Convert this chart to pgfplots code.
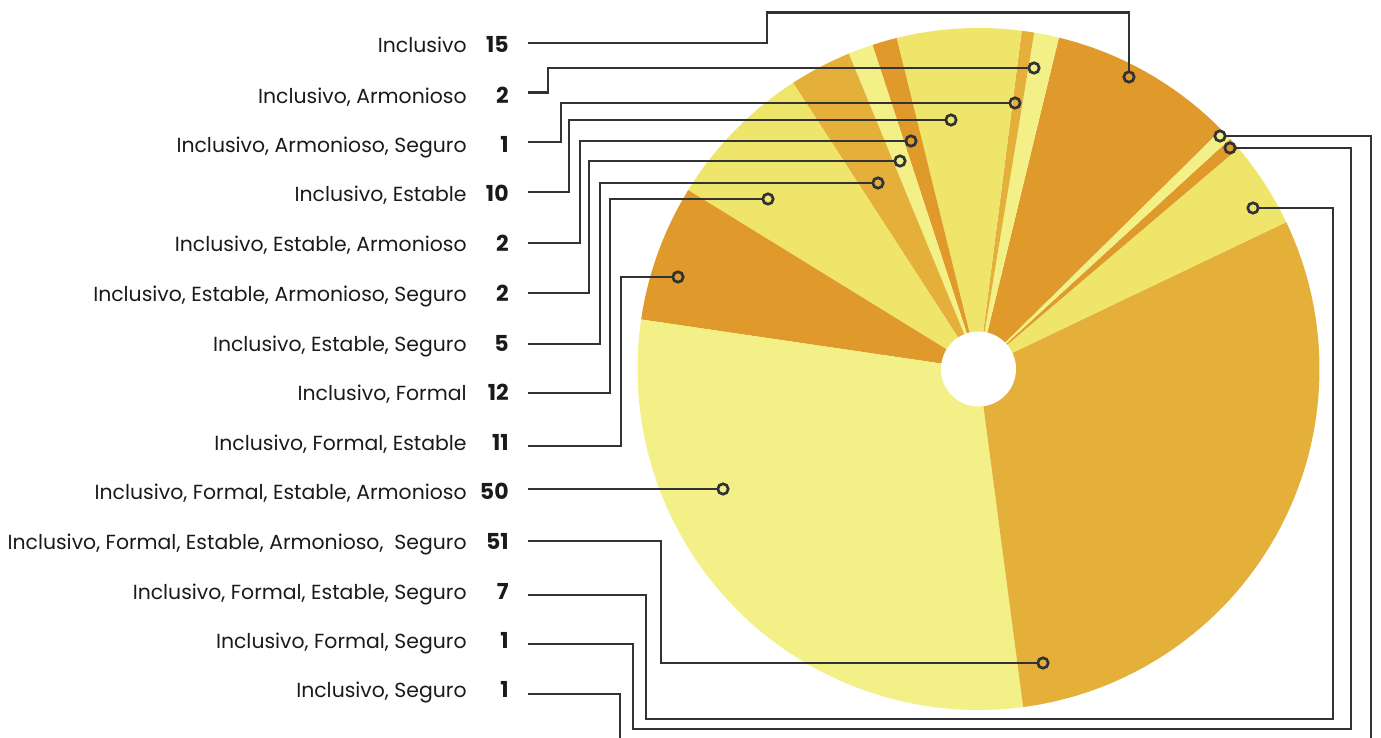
\documentclass[border=0pt]{standalone}
\usepackage{pgfplots}
\pgfplotsset{compat=1.18}
\usepackage{pgfplotstable}
\usepackage{fontspec}
\setmainfont{Poppins}

\definecolor{pc0}{HTML}{DF9A2B}
\definecolor{pc1}{HTML}{F2F087}
\definecolor{pc2}{HTML}{E4B03A}
\definecolor{pc3}{HTML}{F0E56B}
\definecolor{leader}{HTML}{303236}
\definecolor{txt}{HTML}{1A1A1A}

% one row per slice (counter-clockwise); labely / dotx / doty in picture pixels
\pgfplotstableread[col sep=semicolon]{
label;value;labely;dotx;doty
Inclusivo;15;45;1129;77
Inclusivo, Armonioso;2;96;1034;68
Inclusivo, Armonioso, Seguro;1;145;1015;103
Inclusivo, Estable;10;194;951;120
Inclusivo, Estable, Armonioso;2;244;911;141
Inclusivo, Estable, Armonioso, Seguro;2;294;900;161
Inclusivo, Estable, Seguro;5;344;878;183
Inclusivo, Formal;12;393;768;199
Inclusivo, Formal, Estable;11;443;678;277
Inclusivo, Formal, Estable, Armonioso;50;492;723;489
Inclusivo, Formal, Estable, Armonioso,\ \ Seguro;51;542;1043;663
Inclusivo, Formal, Estable, Seguro;7;592;1253;208
Inclusivo, Formal, Seguro;1;641;1230;148
Inclusivo, Seguro;1;690;1220;136
}\piedata

\begin{document}
\begin{tikzpicture}
\useasboundingbox (0,0) rectangle (690.5pt,369pt);
\begin{axis}[
  hide axis,
  x=0.5pt, y=0.5pt,
  xmin=0, xmax=1381, ymin=0, ymax=738,
  y dir=reverse,
  at={(0,0)}, anchor=south west,
  clip=true,
  ldr/.style={leader, line width=1.35pt, mark=none, solid},
]
% total
\def\total{0}
\pgfplotsforeachungrouped \i in {0,...,13}{%
  \pgfplotstablegetelem{\i}{value}\of\piedata
  \pgfmathsetmacro\total{\total+\pgfplotsretval}%
}
% slices
\def\cum{44.6}
\pgfplotsforeachungrouped \i in {0,...,13}{%
  \pgfplotstablegetelem{\i}{value}\of\piedata
  \pgfmathsetmacro\aone{\cum}%
  \pgfmathsetmacro\atwo{\cum+\pgfplotsretval/\total*360}%
  \pgfmathtruncatemacro\ci{mod(\i,4)}%
  \edef\cmd{\noexpand\fill[pc\ci] (axis cs:978.5,369) -- ++(\aone:170.5pt)
    arc[start angle=\aone, end angle=\atwo, radius=170.5pt] -- cycle;}%
  \cmd
  \global\let\cum\atwo
}
\fill[white] (axis cs:978.5,369) circle[radius=18.75pt];

% leader lines
\addplot[ldr] coordinates {(528,43) (767,43) (767,12.5) (1129,12.5) (1129,71)};
\addplot[ldr] coordinates {(528,92.5) (548,92.5) (548,68) (1028,68)};
\addplot[ldr] coordinates {(528,142) (561,142) (561,103) (1009,103)};
\addplot[ldr] coordinates {(528,192) (569,192) (569,120) (945,120)};
\addplot[ldr] coordinates {(528,243) (580,243) (580,141) (905,141)};
\addplot[ldr] coordinates {(528,293) (589,293) (589,161) (894,161)};
\addplot[ldr] coordinates {(528,344) (600,344) (600,183) (872,183)};
\addplot[ldr] coordinates {(528,393) (610,393) (610,199) (762,199)};
\addplot[ldr] coordinates {(528,446) (621,446) (621,277) (672,277)};
\addplot[ldr] coordinates {(528,489) (717,489)};
\addplot[ldr] coordinates {(528,541) (661,541) (661,663) (1037,663)};
\addplot[ldr] coordinates {(528,595) (646,595) (646,719) (1333,719) (1333,208) (1259,208)};
\addplot[ldr] coordinates {(528,644) (633,644) (633,729) (1351,729) (1351,148) (1236,148)};
\addplot[ldr] coordinates {(528,694) (620,694) (620,745) (1371,745) (1371,136) (1226,136)};

% anchor dots
\addplot[only marks, mark=o, mark size=2.6pt,
  mark options={draw=leader, line width=1.35pt, solid}]
  table[x=dotx, y=doty] {\piedata};

% labels and values
\pgfplotsforeachungrouped \i in {0,...,13}{%
  \pgfplotstablegetelem{\i}{label}\of\piedata
  \let\lab\pgfplotsretval
  \pgfplotstablegetelem{\i}{value}\of\piedata
  \let\val\pgfplotsretval
  \pgfplotstablegetelem{\i}{labely}\of\piedata
  \pgfmathsetmacro\ly{\pgfplotsretval+7.5}%
  \edef\cmd{%
    \noexpand\node[anchor=base east, inner sep=0pt, text=txt,
      font=\noexpand\fontsize{10.2}{12}\noexpand\selectfont]
      at (axis cs:467,\ly) {\unexpanded\expandafter{\lab}};
    \noexpand\node[anchor=base east, inner sep=0pt, text=txt,
      font=\noexpand\fontsize{11}{13}\noexpand\selectfont\noexpand\bfseries]
      at (axis cs:509,\ly) {\val};}%
  \cmd
}
\end{axis}
\end{tikzpicture}
\end{document}
